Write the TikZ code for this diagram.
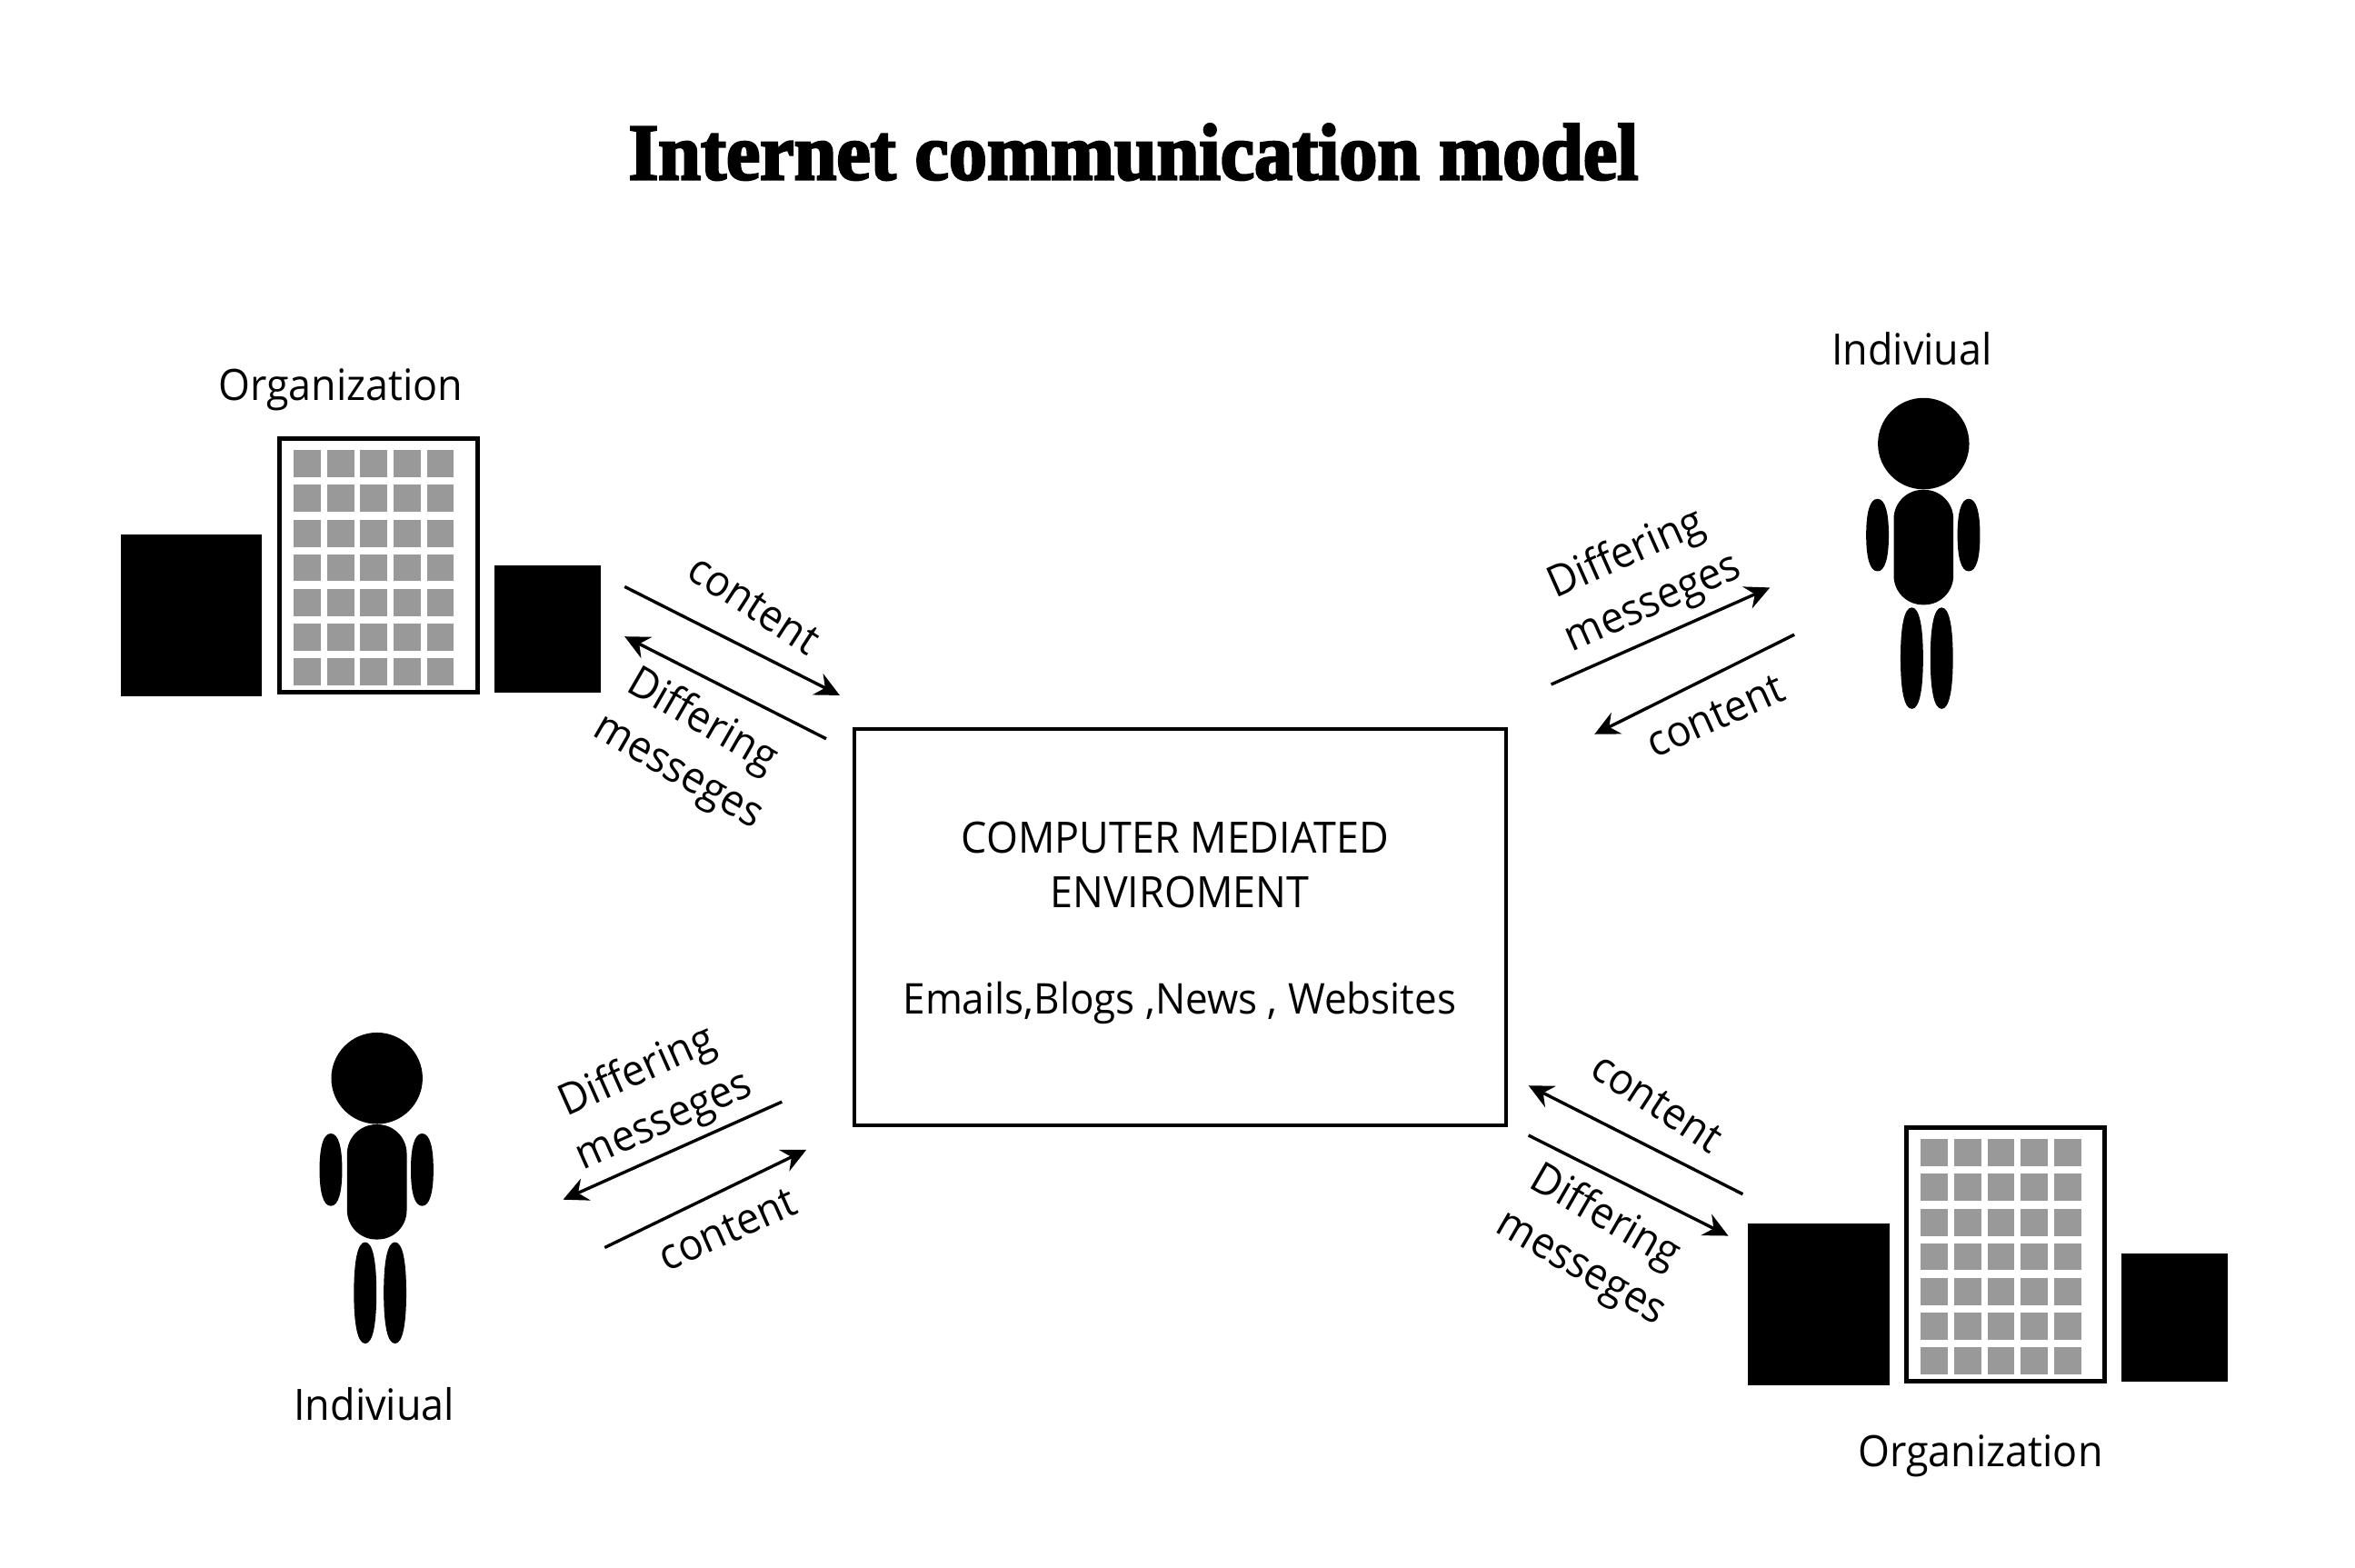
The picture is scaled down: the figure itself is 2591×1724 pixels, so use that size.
\documentclass[tikz,border=0pt]{standalone}
\usepackage{fontspec}
\usetikzlibrary{arrows.meta}
\newfontfamily\labfont[FakeStretch=0.945]{Open Sans}
\newfontfamily\ttlfont[BoldFeatures={FakeBold=3,FakeStretch=0.955}]{Liberation Serif}
\newcommand{\blob}[4]{%
  \fill ({#1},{#2-#4}) .. controls ({#1+0.7*#3},{#2-#4}) and ({#1+#3},{#2-0.6*#4}) .. ({#1+#3},{#2})
    .. controls ({#1+#3},{#2+0.6*#4}) and ({#1+0.7*#3},{#2+#4}) .. ({#1},{#2+#4})
    .. controls ({#1-0.7*#3},{#2+#4}) and ({#1-#3},{#2+0.6*#4}) .. ({#1-#3},{#2})
    .. controls ({#1-#3},{#2-0.6*#4}) and ({#1-0.7*#3},{#2-#4}) .. ({#1},{#2-#4}) -- cycle;}
\newcommand{\twoline}{\hspace*{10pt}messeges}
\tikzset{
  lab/.style={font=\labfont\fontsize{47.5}{61}\selectfont,inner sep=0pt,align=center,text=black},
  labw/.style={lab,font=\labfont\fontsize{46.6}{61}\selectfont},
  ttl/.style={font=\ttlfont\bfseries\fontsize{88}{100}\selectfont,inner sep=0pt},
  conn/.style={line width=3.4pt,-{Stealth[length=27pt,width=26pt,inset=9pt]}},
  solidblk/.style={fill=black,draw=none},
  win/.style={fill=black!40,draw=none},
  bldg/.pic={
    \fill[solidblk] (134,590) rectangle (290,769);
    \draw[line width=5pt,fill=white] (309,484) rectangle (528,765);
    \foreach \yy in {497,535,574,612,651,689,727}{
      \foreach \xx in {0,...,4}{
        \fill[win] ({325+\xx*36.8},\yy) rectangle ++(30,30);
      }
    }
    \fill[solidblk] (547,624) rectangle (665,765);
  },
  person/.pic={
    \fill (2128,490) circle (50.5);
    \fill[rounded corners=32pt] (2095,541) rectangle (2161,668);
    \blob{2077}{591}{12.5}{40}
    \blob{2178}{591}{12.5}{40}
    \blob{2115}{727}{12.5}{56}
    \blob{2148}{727}{12.5}{56}
  }
}
\begin{document}
\begin{tikzpicture}[x=1pt,y=-1pt]
\useasboundingbox[fill=white] (0,0) rectangle (2591,1724);
\begin{scope}[x=0.9945pt,y=-0.996pt]
\node[ttl] (title) at (1254,168) {Internet communication model};
\pic {bldg};
\pic[shift={(1800,761)}] {bldg};
\pic {person};
\pic[shift={(-1711,701)}] {person};
\node[lab] (org1) at (377,430) {Organization};
\node[lab] (org2) at (2191,1608) {Organization};
\node[lab] (ind1) at (2115,385) {Indiviual};
\node[lab] (ind2) at (414,1551) {Indiviual};
\coordinate (boxa) at (945,805); \coordinate (boxb) at (1666,1243);
\draw[line width=4.5pt] (boxa) rectangle (boxb);
\node[lab] (cme1) at (1300,925) {COMPUTER MEDIATED};
\node[lab] (cme2) at (1305,985) {ENVIROMENT};
\node[labw] (cme3) at (1305,1108) {Emails,Blogs ,News , Websites};
% top left
\coordinate (a1) at (691,648); \coordinate (a2) at (929,768);
\coordinate (b1) at (914,816); \coordinate (b2) at (691,703);
\draw[conn] (a1) -- (a2);
\draw[conn] (b1) -- (b2);
\node[lab,rotate=-33] (tlc) at (834,668) {content};
\node[lab,rotate=-30] (tld) at (761,824) {Differing\\\twoline};
% top right
\coordinate (c1) at (1716,756); \coordinate (c2) at (1958,649);
\coordinate (d1) at (1985,701); \coordinate (d2) at (1764,811);
\draw[conn] (c1) -- (c2);
\draw[conn] (d1) -- (d2);
\node[lab,rotate=24] (trd) at (1812,641) {Differing\\\twoline};
\node[lab,rotate=24] (trc) at (1898,791) {content};
% bottom left
\coordinate (e1) at (865,1217); \coordinate (e2) at (623,1325);
\coordinate (f1) at (669,1378); \coordinate (f2) at (892,1270);
\draw[conn] (e1) -- (e2);
\draw[conn] (f1) -- (f2);
\node[lab,rotate=24] (bld) at (718,1213) {Differing\\\twoline};
\node[lab,rotate=24] (blc) at (805,1358) {content};
% bottom right
\coordinate (g1) at (1928,1319); \coordinate (g2) at (1691,1199);
\coordinate (h1) at (1691,1254); \coordinate (h2) at (1912,1365);
\draw[conn] (g1) -- (g2);
\draw[conn] (h1) -- (h2);
\node[lab,rotate=-33] (brc) at (1833,1218) {content};
\node[lab,rotate=-30] (brd) at (1760,1372) {Differing\\\twoline};
\end{scope}
\end{tikzpicture}
\end{document}
